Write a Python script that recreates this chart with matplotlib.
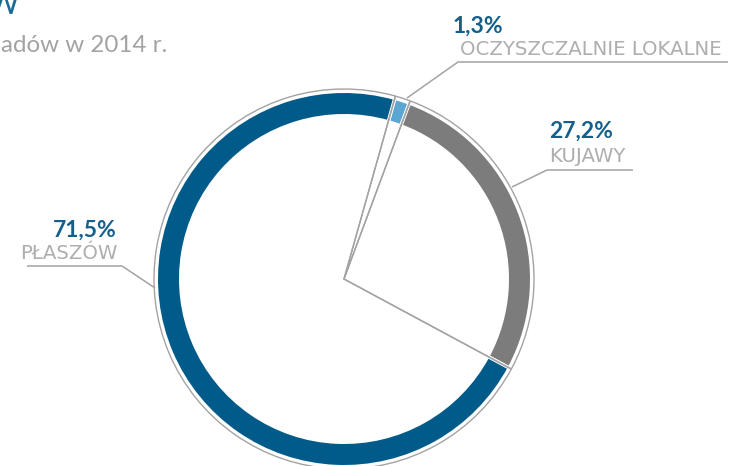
import matplotlib
matplotlib.use("Agg")
import matplotlib.pyplot as plt

# data
labels = ["OCZYSZCZALNIE LOKALNE", "KUJAWY", "PŁASZÓW"]
shares = [1.3, 27.2, 71.5]
pct_text = ["1,3%", "27,2%", "71,5%"]
band_colors = ["#5ba6d3", "#7b7c7b", "#005b8a"]

W, H = 735, 466
CX, CY = 344, 279          # pie centre, pixels from top-left
R_OUT = 190                # thin outline radius
BAND_OUT, BAND_IN = 186, 165

BLUE_TXT = "#14608b"
GRAY_TXT = "#aeaeae"
LINE_GRAY = "#a3a3a3"

plt.rcParams["font.family"] = ["Lato", "DejaVu Sans"]

fig = plt.figure(figsize=(W / 100, H / 100), dpi=100)
ax = fig.add_axes([0, 0, 1, 1])


def py(y):
    # flip pixel y (top-down) to data y (bottom-up)
    return H - y


start = 90 - 15.7
gap_pt = 2.5
gap_px = gap_pt * 100 / 72

# coloured bands, white edges make the gaps
ax.pie(shares, colors=band_colors, startangle=start, counterclock=False,
       center=(CX, py(CY)), radius=BAND_OUT + gap_px / 2,
       wedgeprops=dict(width=BAND_OUT - BAND_IN + gap_px, edgecolor="white",
                       linewidth=gap_pt), frame=True)

# thin grey outline of full wedges
ax.pie(shares, colors=["none"] * 3, startangle=start, counterclock=False,
       center=(CX, py(CY)), radius=R_OUT,
       wedgeprops=dict(edgecolor=LINE_GRAY, linewidth=1.0, facecolor="none"),
       frame=True)

ax.set_xlim(0, W)
ax.set_ylim(0, H)
ax.set_aspect("auto")
ax.axis("off")

# leader lines
leaders = [
    [(407, 98), (458, 62), (728, 62)],
    [(512, 187), (547, 170), (633, 170)],
    [(155, 288), (122, 266), (27, 266)],
]
for pts in leaders:
    ax.plot([p[0] for p in pts], [py(p[1]) for p in pts], color=LINE_GRAY,
            lw=1.1, solid_capstyle="butt")

# labels: (x, pct baseline, name baseline, ha, name x)
lab_pos = [(453, 33, 55, "left", 460), (549, 138, 162, "left", 549),
           (117, 237, 259, "right", 118)]
for i, (x, yp, yn, ha, xn) in enumerate(lab_pos):
    ax.text(x, py(yp), pct_text[i], color=BLUE_TXT, fontsize=16.5,
            fontweight="bold", ha=ha, va="baseline")
    ax.text(xn, py(yn), labels[i], color=GRAY_TXT, fontsize=14.2,
            family="DejaVu Sans", ha=ha, va="baseline")

# title fragments (cut off in the original crop)
fig.text(19 / W, 1 - 14 / H, "W", color="#1a6a96", fontsize=22,
         ha="right", va="baseline")
fig.text(167 / W, 1 - 52 / H, "adów w 2014 r.", color="#a3a3a3",
         fontsize=17.4, ha="right", va="baseline")

fig.savefig("out.png", dpi=100)
